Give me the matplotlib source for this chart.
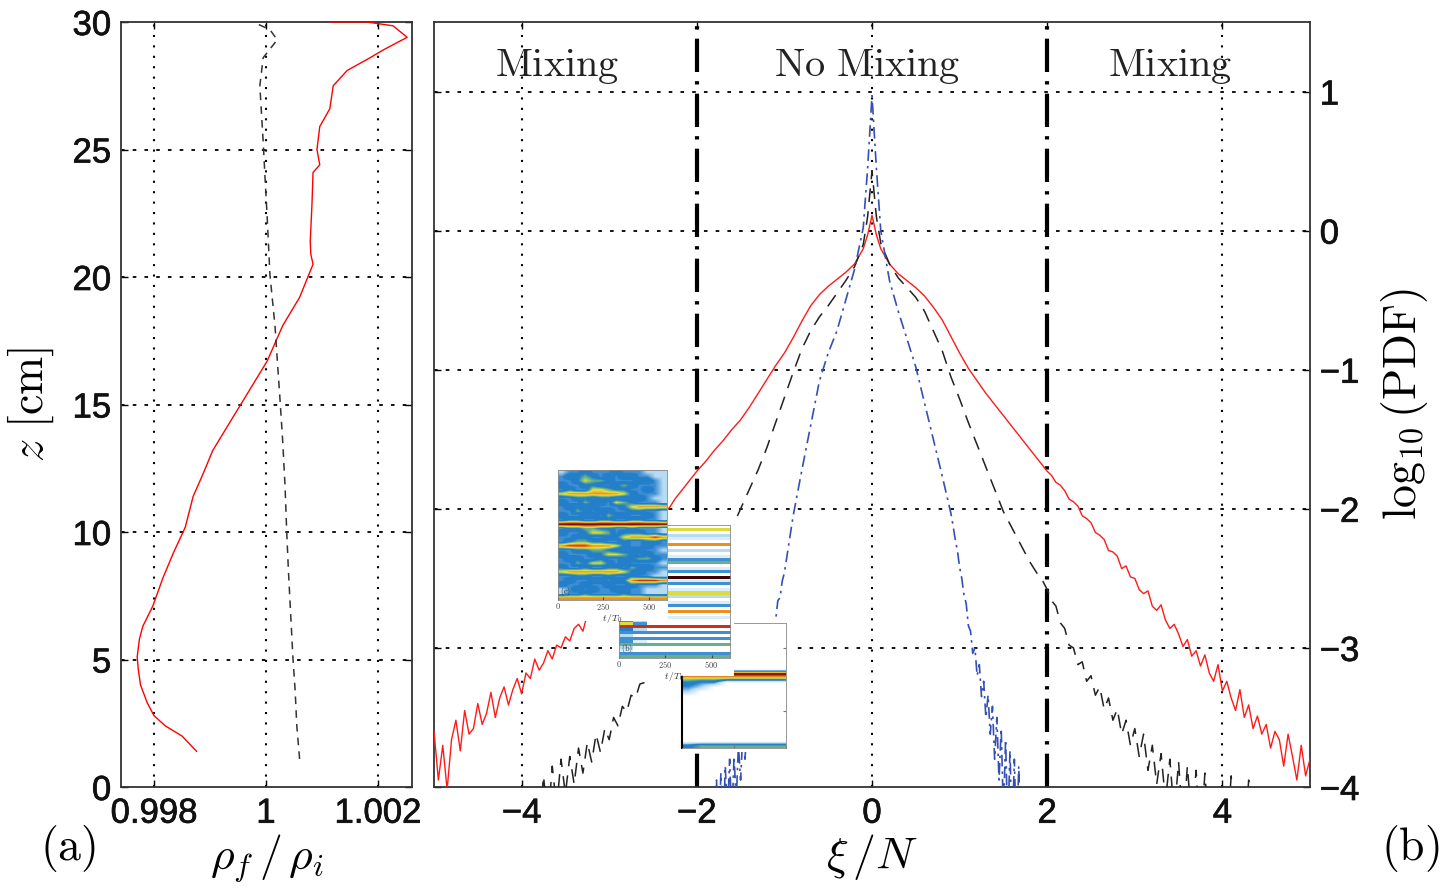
import numpy as np
import matplotlib
matplotlib.use("Agg")
import matplotlib.pyplot as plt
import matplotlib.patheffects as pe
from matplotlib.colors import LinearSegmentedColormap
from matplotlib.patches import Rectangle

plt.rcParams["mathtext.fontset"] = "cm"
plt.rcParams["font.family"] = ["Liberation Sans", "DejaVu Sans"]
plt.rcParams["axes.unicode_minus"] = True

# ---------------------------------------------------------------- data (a)
# density ratio profile rho_f / rho_i versus height z [cm]
prof_red_rho = [0.99876, 0.99850, 0.99820, 0.99800, 0.99788, 0.99776, 0.99772, 0.99770,
                0.99774, 0.99780, 0.99798, 0.99816, 0.99835, 0.99852, 0.99856, 0.99870,
                0.99888, 0.99905, 0.99941, 0.99966, 1.00002, 1.00030, 1.00060, 1.00084,
                1.00080, 1.00079, 1.00082, 1.00084, 1.00096, 1.00091, 1.00096, 1.00114,
                1.00120, 1.00145, 1.00186, 1.00209, 1.00252, 1.00227, 1.00180, 1.00114]
prof_red_z = [1.4, 2.0, 2.4, 2.8, 3.3, 4.0, 4.6, 5.1,
              5.8, 6.3, 7.1, 8.2, 9.2, 10.0, 10.2, 11.4,
              12.3, 13.2, 14.5, 15.4, 16.7, 18.1, 19.2, 20.5,
              20.9, 21.4, 22.8, 24.1, 24.4, 25.0, 25.9, 26.6,
              27.5, 28.1, 28.6, 28.9, 29.4, 29.85, 30.0, 30.0]
prof_blk_rho = [1.00060, 1.00055, 1.00052, 1.00048, 1.00044, 1.00040, 1.00037, 1.00034,
                1.00030, 1.00025, 1.00020, 1.00016, 1.00007, 1.00002, 0.99998, 0.99995,
                0.99989, 0.99995, 1.00020, 1.00007, 0.99977]
prof_blk_z = [1.1, 2.4, 3.8, 5.1, 6.8, 8.5, 10.0, 11.8,
              13.5, 15.2, 16.8, 18.1, 20.1, 22.4, 24.0, 25.3,
              27.5, 28.6, 29.3, 29.7, 30.0]

# ---------------------------------------------------------------- data (b)
# log10 PDF of xi/N; tails sampled on a 0.05 (red, black) / 0.025 (blue) grid
red_left_tail = [-3.60, -3.95, -3.70, -4.02, -3.66, -3.52, -3.74, -3.45, -3.62, -3.58,
                 -3.40, -3.55, -3.47, -3.32, -3.50, -3.36, -3.28, -3.41, -3.30, -3.22,
                 -3.33, -3.18, -3.22, -3.08, -3.16, -3.11, -3.02, -3.08, -2.98, -3.00,
                 -2.92, -2.95, -2.86, -2.83, -2.88, -2.76, -2.78, -2.70, -2.73, -2.64,
                 -2.61, -2.60, -2.53, -2.50, -2.46, -2.41, -2.37, -2.31, -2.28, -2.21,
                 -2.17, -2.12, -2.08, -2.02, -1.98, -1.93, -1.89, -1.85, -1.81, -1.77,
                 -1.73]
red_core_x = [-1.9, -1.8, -1.7, -1.6, -1.5, -1.4, -1.3, -1.2, -1.1, -1.0, -0.9, -0.8,
              -0.7, -0.6, -0.5, -0.4, -0.3, -0.2, -0.1, -0.05, 0.0, 0.05, 0.1, 0.2,
              0.3, 0.4, 0.5, 0.6, 0.7, 0.8, 0.9, 1.0, 1.1, 1.2, 1.3, 1.4, 1.5, 1.6,
              1.7, 1.8, 1.9]
red_core = [-1.66, -1.58, -1.51, -1.43, -1.36, -1.27, -1.17, -1.07, -0.97, -0.88, -0.77,
            -0.65, -0.54, -0.46, -0.40, -0.35, -0.30, -0.24, -0.13, -0.03, 0.11, -0.03,
            -0.13, -0.24, -0.31, -0.36, -0.41, -0.47, -0.55, -0.64, -0.76, -0.88, -0.99,
            -1.08, -1.17, -1.25, -1.33, -1.41, -1.49, -1.57, -1.65]
red_right_tail = [-1.73, -1.76, -1.81, -1.83, -1.87, -1.93, -1.95, -1.98, -2.05, -2.07,
                  -2.10, -2.17, -2.19, -2.22, -2.30, -2.31, -2.34, -2.43, -2.41, -2.49,
                  -2.50, -2.58, -2.61, -2.59, -2.70, -2.73, -2.69, -2.80, -2.86, -2.83,
                  -2.90, -2.99, -2.94, -3.06, -3.02, -3.13, -3.05, -3.18, -3.24, -3.12,
                  -3.31, -3.24, -3.36, -3.45, -3.30, -3.50, -3.41, -3.58, -3.49, -3.62,
                  -3.55, -3.72, -3.60, -3.66, -3.85, -3.62, -3.78, -3.95, -3.70, -3.92,
                  -3.80]

blk_left_tail = [-4.30, -4.20, -4.40, -4.10, -4.35, -3.92, -4.25, -3.85, -4.15, -3.80,
                 -4.05, -3.78, -3.98, -3.72, -3.90, -3.68, -3.82, -3.62, -3.75, -3.58,
                 -3.66, -3.50, -3.56, -3.42, -3.46, -3.34, -3.36, -3.26, -3.25, -3.18,
                 -3.16, -3.08, -3.05, -2.98, -2.95, -2.88, -2.84, -2.78, -2.72, -2.66,
                 -2.58, -2.54, -2.48, -2.43, -2.37, -2.32, -2.26, -2.20, -2.14, -2.07,
                 -2.00]
blk_core_x = [-1.4, -1.3, -1.2, -1.1, -1.0, -0.9, -0.8, -0.7, -0.6, -0.5, -0.4, -0.3,
              -0.2, -0.1, -0.05, 0.0, 0.05, 0.1, 0.2, 0.3, 0.4, 0.5, 0.6, 0.7, 0.8, 0.9,
              1.0, 1.1, 1.2, 1.3, 1.4]
blk_core = [-1.86, -1.72, -1.56, -1.38, -1.20, -1.02, -0.85, -0.72, -0.62, -0.54, -0.45,
            -0.36, -0.26, -0.10, 0.10, 0.43, 0.10, -0.09, -0.24, -0.34, -0.41, -0.48,
            -0.58, -0.72, -0.86, -1.05, -1.21, -1.38, -1.54, -1.70, -1.86]
blk_right_tail = [-1.94, -2.02, -2.08, -2.14, -2.20, -2.26, -2.32, -2.38, -2.43, -2.48,
                  -2.52, -2.58, -2.66, -2.70, -2.82, -2.86, -2.98, -3.00, -3.12, -3.10,
                  -3.24, -3.20, -3.34, -3.28, -3.44, -3.36, -3.52, -3.44, -3.62, -3.52,
                  -3.70, -3.58, -3.78, -3.62, -3.88, -3.70, -3.98, -3.76, -4.10, -3.80,
                  -4.20, -3.82, -4.30, -3.85, -4.25, -3.88, -4.40, -3.90, -4.35, -4.30,
                  -4.40, -4.30, -4.40, -3.92, -4.40, -4.40, -4.40, -3.95, -4.40]

blu_left_tail = [-4.30, -3.95, -4.40, -3.90, -4.35, -3.85, -4.20, -3.80, -4.25, -3.78,
                 -4.10, -3.70, -3.95, -3.62, -3.80, -3.55, -3.66, -3.45, -3.52, -3.34,
                 -3.40, -3.24, -3.28, -3.12, -3.14, -2.98, -2.98, -2.82, -2.80, -2.66,
                 -2.64, -2.52, -2.46]
blu_core_x = [-0.9, -0.8, -0.7, -0.6, -0.5, -0.4, -0.3, -0.2, -0.1, -0.05, 0.0, 0.05,
              0.1, 0.2, 0.3, 0.4, 0.5, 0.6, 0.7, 0.8, 0.9]
blu_core = [-2.05, -1.72, -1.40, -1.08, -0.88, -0.72, -0.50, -0.28, 0.02, 0.45, 0.97,
            0.45, 0.00, -0.36, -0.58, -0.78, -0.98, -1.24, -1.50, -1.76, -2.03]
blu_right_tail = [-2.12, -2.22, -2.30, -2.42, -2.50, -2.62, -2.68, -2.84, -2.88, -3.04,
                  -3.00, -3.20, -3.12, -3.35, -3.24, -3.50, -3.34, -3.62, -3.42, -3.80,
                  -3.50, -3.95, -3.58, -4.20, -3.66, -4.30, -3.74, -4.35, -3.80, -4.40,
                  -3.85, -4.40, -4.00, -4.40]

# bin centres of the tails
red_x = np.concatenate([np.linspace(-5.0, -2.0, len(red_left_tail)), red_core_x,
                        np.linspace(2.0, 5.0, len(red_right_tail))])
red_y = np.concatenate([red_left_tail, red_core, red_right_tail])
blk_x = np.concatenate([np.linspace(-4.0, -1.5, len(blk_left_tail)), blk_core_x,
                        np.linspace(1.45, 4.35, len(blk_right_tail))])
blk_y = np.concatenate([blk_left_tail, blk_core, blk_right_tail])
blu_x = np.concatenate([np.linspace(-1.8, -1.0, len(blu_left_tail)), blu_core_x,
                        np.linspace(0.925, 1.75, len(blu_right_tail))])
blu_y = np.concatenate([blu_left_tail, blu_core, blu_right_tail])

region_labels = ["Mixing", "No Mixing", "Mixing"]
region_centres = [-3.6, -0.05, 3.4]
mixing_bounds = [-2, 2]

# ------------------------------------------------- space-time inset maps
# level per cell: 0 white, 1-2 light blue, 3-4 blue, 5 green, 6 yellow,
# 7 orange, 8 red, 9 black
map_c_rows = ["23343334333222", "34454343443322", "33465543334432", "43344334543332",
              "34336654433432", "67777777643332", "33443443344322", "43354436543332",
              "34434333467777", "33543443344332", "43344354433432", "34433443344332",
              "99999999999999", "34455443343332", "43346653444332", "33443344677787",
              "34554433433443", "78887776433433", "33445543344332", "43334466543433",
              "34433433445543", "33546643433332", "43343344354433", "67777777644332",
              "33443343343322", "34334434478887", "43343343343332", "23434334433222",
              "23343333433222", "77777777777777"]
map_b_rows = ["00000000", "66666666", "00000000", "22222222", "11111111", "00000000",
              "77777777", "00000000", "22222222", "00000000", "11111111", "33333333",
              "55555555", "00000000", "11111111", "33333333", "00000000", "99999999",
              "11111111", "33333333", "00000000", "11111111", "66666666", "22222222",
              "00000000", "11111111", "33333333", "00000000", "77777777", "00000000",
              "21111111", "32000000", "63000000", "88888888", "42000000", "33333333",
              "20000000", "33333333", "31000000", "55555555", "20000000", "10000000",
              "33333333", "55555555"]
map_d_rows = ["00000000", "00000000", "00000000", "00000000", "00000000", "00000000",
              "00000000", "00000000", "00000000", "00000000", "00000000", "99999999",
              "66666666", "43300000", "32000000", "20000000", "00000000", "00000000",
              "00000000", "00000000", "00000000", "00000000", "00000000", "00000000",
              "00000000", "00000000", "00000000", "45555555"]
time_ticks = [0, 250, 500]


def rows_to_array(rows):
    return np.array([[int(ch) for ch in r] for r in rows], dtype=float) / 9.0


map_cmap = LinearSegmentedColormap.from_list(
    "streaks",
    [(0.00, (1.00, 1.00, 1.00)), (0.22, (0.72, 0.86, 0.95)), (0.36, (0.14, 0.50, 0.80)),
     (0.47, (0.14, 0.50, 0.78)), (0.57, (0.45, 0.72, 0.50)), (0.68, (0.93, 0.88, 0.22)),
     (0.80, (0.92, 0.50, 0.12)), (0.90, (0.78, 0.16, 0.10)), (1.00, (0.22, 0.02, 0.02))])

# ------------------------------------------------------------------ figure
W, H = 1447, 891
fig = plt.figure(figsize=(W / 100, H / 100), dpi=100)


def px_rect(x0, y0, x1, y1):
    return [x0 / W, 1 - y1 / H, (x1 - x0) / W, (y1 - y0) / H]


TICK_FS = 25
LABEL_FS = 33
heavy = [pe.withStroke(linewidth=0.5, foreground="#111111")]
grid_h = dict(color="black", lw=1.3, ls=(0, (2.0, 4.5)), zorder=0.5)
grid_v = dict(color="black", lw=1.5, ls=(0, (1.0, 4.0)), zorder=0.5)


def thicken_ticklabels(ax):
    for t in ax.get_xticklabels() + ax.get_yticklabels():
        t.set_path_effects(heavy)
        t.set_color("#111111")


# ---------------------------------------------------------------- panel (a)
ax_a = fig.add_axes(px_rect(121, 22, 412, 787))
ax_a.plot(prof_red_rho, prof_red_z, color="red", lw=1.0, zorder=3)
ax_a.plot(prof_blk_rho, prof_blk_z, color="#333333", lw=1.1, ls=(0, (5, 4)), zorder=3)
ax_a.set_xlim(0.997411, 1.002607)
ax_a.set_ylim(0, 30)
ax_a.set_xticks([0.998, 1.0, 1.002])
ax_a.set_xticklabels(["0.998", "1", "1.002"])
ax_a.set_yticks([0, 5, 10, 15, 20, 25, 30])
for v in [0.998, 1.0, 1.002]:
    ax_a.axvline(v, **grid_v)
for v in [5, 10, 15, 20, 25]:
    ax_a.axhline(v, **grid_h)
ax_a.tick_params(direction="in", length=5, width=1, labelsize=TICK_FS, pad=7,
                 top=True, right=True)
ax_a.set_ylabel(r"$z\ [\mathrm{cm}]$", fontsize=LABEL_FS, labelpad=12)
ax_a.set_xlabel(r"$\rho_f\,/\,\rho_i$", fontsize=LABEL_FS, labelpad=2)
thicken_ticklabels(ax_a)
fig.text(68 / W, 1 - 848 / H, r"$(\mathrm{a})$", fontsize=LABEL_FS, ha="center", va="center")

# ---------------------------------------------------------------- panel (b)
ax_b = fig.add_axes(px_rect(434, 22, 1310, 787))
ax_b.plot(red_x, red_y, color="#ff1a1a", lw=1.0, zorder=3)
ax_b.plot(blk_x, blk_y, color="#222222", lw=1.1, ls=(0, (9, 6)), zorder=3)
ax_b.plot(blu_x, blu_y, color="#3550b5", lw=1.2, ls=(0, (7, 3, 1.5, 3)), zorder=3)
for v in mixing_bounds:
    ax_b.axvline(v, color="black", lw=3.0, ls=(0, (8, 2.2, 0.8, 2.2)), zorder=2)
for v in [-4, 0, 4]:
    ax_b.axvline(v, **grid_v)
for v in [-3, -2, -1, 0, 1]:
    ax_b.axhline(v, **grid_h)
ax_b.set_xlim(-5, 5)
ax_b.set_ylim(-4, 1.5)
ax_b.set_xticks([-4, -2, 0, 2, 4])
ax_b.set_yticks([-4, -3, -2, -1, 0, 1])
ax_b.yaxis.tick_right()
ax_b.yaxis.set_label_position("right")
ax_b.tick_params(direction="in", length=5, width=1, labelsize=TICK_FS, pad=7,
                 top=True, left=True)
ax_b.set_xlabel(r"$\xi\,/N$", fontsize=LABEL_FS, labelpad=2)
ax_b.set_ylabel(r"$\log_{10}(\mathrm{PDF})$", fontsize=LABEL_FS, labelpad=14, rotation=90)
thicken_ticklabels(ax_b)
for label, xc in zip(region_labels, region_centres):
    ax_b.text(xc, 1.18, r"$\mathrm{" + label.replace(" ", r"\ ") + "}$",
              fontsize=29, ha="center", va="center", color="#222222")
fig.text(1410 / W, 1 - 848 / H, r"$(\mathrm{b})$", fontsize=LABEL_FS, ha="center", va="center")

for ax in (ax_a, ax_b):
    for s in ax.spines.values():
        s.set_linewidth(1.3)
        s.set_color("#333333")


# ------------------------------------------------------------------ insets
def white_box(x0, y0, x1, y1, z):
    fig.add_artist(Rectangle((x0 / W, 1 - y1 / H), (x1 - x0) / W, (y1 - y0) / H,
                             transform=fig.transFigure, facecolor="white",
                             edgecolor="none", zorder=z))


def map_inset(rect_px, rows, z, tag=None, time_axis=True, interp="bilinear"):
    ax = fig.add_axes(px_rect(*rect_px), zorder=z)
    ax.imshow(rows_to_array(rows), cmap=map_cmap, vmin=0, vmax=1, aspect="auto",
              interpolation=interp, extent=[0, 600, 0, 1])
    ax.set_xlim(0, 600)
    ax.set_ylim(0, 1)
    ax.set_yticks([])
    if time_axis:
        ax.set_xticks(time_ticks)
        ax.set_xticklabels([r"$%d$" % t for t in time_ticks])
        ax.tick_params(direction="in", length=2, labelsize=6, pad=1, colors="#444444")
        ax.set_xlabel(r"$t\,/T_0$", fontsize=7, labelpad=0, color="#333333")
    for s in ax.spines.values():
        s.set_linewidth(0.6)
        s.set_color("#888888")
    if tag:
        ax.text(10, 0.05, tag, fontsize=6, color="#333333")
    return ax


# lowest map (partly hidden)
white_box(678, 619, 790, 752, 2)
ax_d = map_inset((682, 623, 786, 748), map_d_rows, 3, time_axis=False)
ax_d.set_xticks([0, 300, 600])
ax_d.set_xticklabels([])
ax_d.set_yticks([0.3, 0.8])
ax_d.tick_params(direction="in", length=2, right=True, left=False, labelleft=False,
                 colors="#777777")
ax_d.spines["left"].set_color("black")
ax_d.spines["left"].set_linewidth(1.5)

# middle map
white_box(612, 521, 734, 676, 4)
map_inset((619, 525, 730, 658), map_b_rows, 5, tag=r"$(\mathrm{b})$", interp="nearest")

# top map
white_box(549, 465, 668, 621, 6)
map_inset((558, 470, 667, 600), map_c_rows, 7, tag=r"$(\mathrm{c})$")

fig.savefig("out.png", dpi=100)
